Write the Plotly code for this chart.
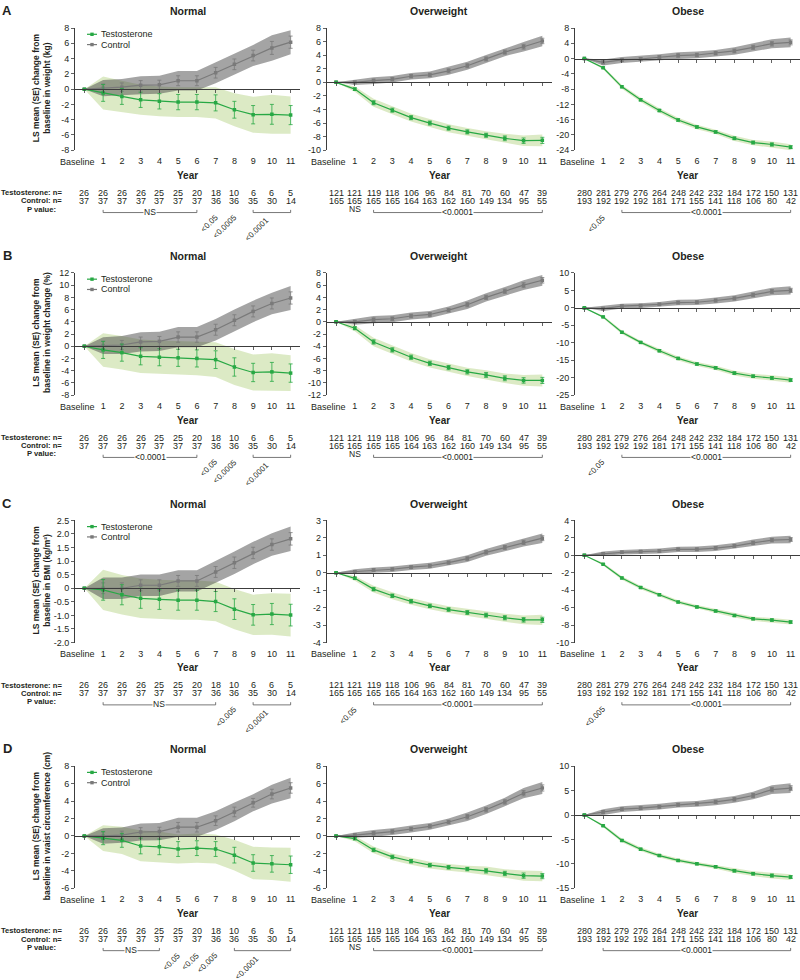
import plotly.graph_objects as go

# ---------------- categories / labels ----------------
year_x = list(range(12))
year_labels = ["Baseline", "1", "2", "3", "4", "5", "6", "7", "8", "9", "10", "11"]
bmi_groups = ["Normal", "Overweight", "Obese"]
panel_letters = ["A", "B", "C", "D"]
y_titles = [
    "LS mean (SE) change from<br>baseline in weight (kg)",
    "LS mean (SE) change from<br>baseline in weight change (%)",
    "LS mean (SE) change from<br>baseline in BMI (kg/m²)",
    "LS mean (SE) change from<br>baseline in waist circumference (cm)",
]
series_names = ["Testosterone", "Control"]

# ---------------- numbers at risk ----------------
normal_n_T = [26, 26, 26, 26, 25, 25, 20, 18, 10, 6, 6, 5]
normal_n_C = [37, 37, 37, 37, 37, 37, 37, 36, 36, 35, 30, 14]
overweight_n_T = [121, 121, 119, 118, 106, 96, 84, 81, 70, 60, 47, 39]
overweight_n_C = [165, 165, 165, 165, 164, 163, 162, 160, 149, 134, 95, 55]
obese_n_T = [280, 281, 279, 276, 264, 248, 242, 232, 184, 172, 150, 131]
obese_n_C = [193, 192, 192, 192, 181, 171, 155, 141, 118, 106, 80, 42]

# ---------------- A: weight (kg) ----------------
A_normal_T = [0, -0.5, -0.95, -1.4, -1.6, -1.7, -1.7, -1.8, -2.7, -3.35, -3.3, -3.4]
A_normal_T_se = [0, 1.1, 1.05, 1.0, 1.0, 1.0, 1.0, 1.05, 1.1, 1.2, 1.3, 1.25]
A_normal_C = [0, 0.13, 0.26, 0.52, 0.57, 1.1, 1.1, 2.15, 3.25, 4.4, 5.4, 6.15]
A_normal_C_se = [0, 0.55, 0.55, 0.6, 0.6, 0.65, 0.65, 0.7, 0.7, 0.7, 0.85, 0.8]
A_over_T = [0, -1.0, -3.0, -4.1, -5.2, -6.0, -6.75, -7.3, -7.8, -8.25, -8.6, -8.55]
A_over_T_se = [0, 0.2, 0.3, 0.3, 0.3, 0.3, 0.3, 0.3, 0.3, 0.35, 0.4, 0.45]
A_over_C = [0, 0.0, 0.25, 0.45, 0.9, 1.1, 1.7, 2.45, 3.45, 4.45, 5.25, 6.1]
A_over_C_se = [0, 0.2, 0.25, 0.25, 0.25, 0.25, 0.3, 0.3, 0.3, 0.3, 0.35, 0.4]
A_obese_T = [0, -2.4, -7.4, -10.8, -13.6, -16.1, -17.9, -19.2, -20.9, -22.0, -22.5, -23.2]
A_obese_T_se = [0, 0.2, 0.25, 0.3, 0.3, 0.3, 0.3, 0.3, 0.35, 0.35, 0.4, 0.4]
A_obese_C = [0, -1.0, -0.35, -0.1, 0.35, 0.8, 0.95, 1.4, 2.0, 2.95, 3.9, 4.25]
A_obese_C_se = [0, 0.4, 0.4, 0.4, 0.4, 0.45, 0.45, 0.45, 0.5, 0.55, 0.6, 0.65]

# ---------------- B: weight change (%) ----------------
B_normal_T = [0, -0.6, -1.05, -1.65, -1.8, -1.9, -2.0, -2.2, -3.4, -4.3, -4.2, -4.4]
B_normal_T_se = [0, 1.4, 1.4, 1.4, 1.4, 1.4, 1.4, 1.45, 1.5, 1.5, 1.55, 1.5]
B_normal_C = [0, 0.1, 0.2, 0.7, 0.8, 1.5, 1.5, 2.7, 4.25, 5.7, 7.0, 7.9]
B_normal_C_se = [0, 0.7, 0.75, 0.8, 0.8, 0.85, 0.85, 0.9, 0.9, 0.9, 0.9, 1.0]
B_over_T = [0, -1.05, -3.3, -4.6, -5.8, -6.8, -7.5, -8.2, -8.7, -9.25, -9.6, -9.6]
B_over_T_se = [0, 0.25, 0.35, 0.35, 0.35, 0.35, 0.35, 0.35, 0.4, 0.4, 0.45, 0.5]
B_over_C = [0, 0.0, 0.35, 0.5, 0.95, 1.2, 1.9, 2.8, 4.0, 5.0, 6.0, 6.8]
B_over_C_se = [0, 0.25, 0.3, 0.3, 0.3, 0.3, 0.3, 0.35, 0.35, 0.35, 0.4, 0.45]
B_obese_T = [0, -2.6, -7.0, -9.9, -12.3, -14.5, -16.1, -17.2, -18.7, -19.6, -20.1, -20.7]
B_obese_T_se = [0, 0.2, 0.25, 0.25, 0.3, 0.3, 0.3, 0.3, 0.35, 0.35, 0.4, 0.4]
B_obese_C = [0, -0.2, 0.5, 0.65, 1.0, 1.5, 1.6, 2.1, 2.7, 3.7, 4.7, 5.0]
B_obese_C_se = [0, 0.35, 0.35, 0.35, 0.35, 0.4, 0.4, 0.45, 0.45, 0.5, 0.55, 0.6]

# ---------------- C: BMI (kg/m2) ----------------
C_normal_T = [0, -0.06, -0.24, -0.37, -0.41, -0.44, -0.44, -0.49, -0.77, -0.98, -0.95, -0.99]
C_normal_T_se = [0, 0.38, 0.37, 0.37, 0.37, 0.37, 0.37, 0.37, 0.38, 0.38, 0.39, 0.4]
C_normal_C = [0, 0.0, 0.0, 0.11, 0.11, 0.27, 0.27, 0.6, 0.94, 1.3, 1.61, 1.82]
C_normal_C_se = [0, 0.2, 0.2, 0.2, 0.2, 0.2, 0.2, 0.2, 0.21, 0.21, 0.21, 0.23]
C_over_T = [0, -0.32, -0.94, -1.32, -1.64, -1.9, -2.11, -2.28, -2.43, -2.58, -2.7, -2.7]
C_over_T_se = [0, 0.07, 0.1, 0.1, 0.1, 0.1, 0.1, 0.11, 0.11, 0.12, 0.13, 0.15]
C_over_C = [0, 0.06, 0.15, 0.2, 0.32, 0.4, 0.58, 0.81, 1.17, 1.45, 1.74, 1.98]
C_over_C_se = [0, 0.07, 0.08, 0.08, 0.08, 0.09, 0.09, 0.1, 0.1, 0.11, 0.12, 0.14]
C_obese_T = [0, -1.02, -2.6, -3.7, -4.53, -5.36, -5.92, -6.38, -6.9, -7.28, -7.43, -7.66]
C_obese_T_se = [0, 0.08, 0.1, 0.1, 0.1, 0.1, 0.11, 0.11, 0.12, 0.12, 0.13, 0.14]
C_obese_C = [0, 0.19, 0.34, 0.42, 0.49, 0.68, 0.68, 0.83, 1.06, 1.43, 1.74, 1.81]
C_obese_C_se = [0, 0.12, 0.13, 0.13, 0.14, 0.15, 0.16, 0.17, 0.18, 0.19, 0.2, 0.22]

# ---------------- D: waist circumference (cm) ----------------
D_normal_T = [0, -0.25, -0.5, -1.15, -1.25, -1.5, -1.4, -1.5, -2.2, -3.1, -3.2, -3.3]
D_normal_T_se = [0, 0.75, 0.8, 0.9, 0.9, 0.85, 0.85, 0.85, 0.9, 0.95, 0.95, 1.0]
D_normal_C = [0, 0.0, 0.1, 0.45, 0.5, 1.0, 1.0, 1.75, 2.75, 3.8, 4.8, 5.5]
D_normal_C_se = [0, 0.45, 0.45, 0.5, 0.5, 0.55, 0.55, 0.55, 0.55, 0.5, 0.55, 0.6]
D_over_T = [0, -0.3, -1.6, -2.4, -2.9, -3.35, -3.6, -3.8, -4.0, -4.3, -4.55, -4.6]
D_over_T_se = [0, 0.15, 0.2, 0.2, 0.2, 0.2, 0.2, 0.2, 0.25, 0.25, 0.3, 0.3]
D_over_C = [0, 0.1, 0.3, 0.5, 0.8, 1.1, 1.6, 2.2, 3.0, 3.9, 4.9, 5.5]
D_over_C_se = [0, 0.15, 0.2, 0.2, 0.2, 0.2, 0.2, 0.25, 0.25, 0.25, 0.3, 0.35]
D_obese_T = [0, -2.2, -5.2, -7.0, -8.3, -9.3, -10.0, -10.6, -11.4, -12.0, -12.4, -12.7]
D_obese_T_se = [0, 0.15, 0.2, 0.2, 0.2, 0.2, 0.2, 0.2, 0.25, 0.25, 0.3, 0.3]
D_obese_C = [0, 0.6, 1.2, 1.4, 1.7, 2.1, 2.3, 2.7, 3.2, 4.0, 5.2, 5.5]
D_obese_C_se = [0, 0.3, 0.3, 0.3, 0.3, 0.3, 0.3, 0.35, 0.35, 0.4, 0.45, 0.5]

# ---------------- y-axis tick settings (min, max, step, decimals) ----------------
A_axes = [(-8, 8, 2, 0), (-10, 8, 2, 0), (-24, 8, 4, 0)]
B_axes = [(-8, 12, 2, 0), (-12, 8, 2, 0), (-25, 10, 5, 0)]
C_axes = [(-2, 2.5, 0.5, 1), (-4, 3, 1, 0), (-10, 4, 2, 0)]
D_axes = [(-6, 8, 2, 0), (-6, 8, 2, 0), (-15, 10, 5, 0)]

# ---------------- P values: (kind, from year, to year, label) ----------------
A_normal_p = [("bracket", 1, 6, "NS"), ("rot", 7, 7, "<0.05"), ("rot", 8, 8, "<0.0005"), ("bracket_rot", 9, 11, "<0.0001")]
A_over_p = [("text", 1, 1, "NS"), ("bracket", 2, 11, "<0.0001")]
A_obese_p = [("rot", 1, 1, "<0.05"), ("bracket", 2, 11, "<0.0001")]
B_normal_p = [("bracket", 1, 6, "<0.0001"), ("rot", 7, 7, "<0.05"), ("rot", 8, 8, "<0.0005"), ("bracket_rot", 9, 11, "<0.0001")]
B_over_p = [("text", 1, 1, "NS"), ("bracket", 2, 11, "<0.0001")]
B_obese_p = [("rot", 1, 1, "<0.05"), ("bracket", 2, 11, "<0.0001")]
C_normal_p = [("bracket", 1, 7, "NS"), ("rot", 8, 8, "<0.005"), ("bracket_rot", 9, 11, "<0.0001")]
C_over_p = [("rot", 1, 1, "<0.05"), ("bracket", 2, 11, "<0.0001")]
C_obese_p = [("rot", 1, 1, "<0.005"), ("bracket", 2, 11, "<0.0001")]
D_normal_p = [("bracket", 1, 4, "NS"), ("rot", 5, 5, "<0.05"), ("rot", 6, 6, "<0.05"), ("rot", 7, 7, "<0.005"), ("bracket_rot", 8, 11, "<0.0001")]
D_over_p = [("text", 1, 1, "NS"), ("bracket", 2, 11, "<0.0001")]
D_obese_p = [("bracket", 1, 11, "<0.0001")]

# ---------------- assemble ----------------
rows = [
    [(A_normal_T, A_normal_T_se, A_normal_C, A_normal_C_se, A_axes[0], A_normal_p),
     (A_over_T, A_over_T_se, A_over_C, A_over_C_se, A_axes[1], A_over_p),
     (A_obese_T, A_obese_T_se, A_obese_C, A_obese_C_se, A_axes[2], A_obese_p)],
    [(B_normal_T, B_normal_T_se, B_normal_C, B_normal_C_se, B_axes[0], B_normal_p),
     (B_over_T, B_over_T_se, B_over_C, B_over_C_se, B_axes[1], B_over_p),
     (B_obese_T, B_obese_T_se, B_obese_C, B_obese_C_se, B_axes[2], B_obese_p)],
    [(C_normal_T, C_normal_T_se, C_normal_C, C_normal_C_se, C_axes[0], C_normal_p),
     (C_over_T, C_over_T_se, C_over_C, C_over_C_se, C_axes[1], C_over_p),
     (C_obese_T, C_obese_T_se, C_obese_C, C_obese_C_se, C_axes[2], C_obese_p)],
    [(D_normal_T, D_normal_T_se, D_normal_C, D_normal_C_se, D_axes[0], D_normal_p),
     (D_over_T, D_over_T_se, D_over_C, D_over_C_se, D_axes[1], D_over_p),
     (D_obese_T, D_obese_T_se, D_obese_C, D_obese_C_se, D_axes[2], D_obese_p)],
]
n_tables = [(normal_n_T, normal_n_C), (overweight_n_T, overweight_n_C), (obese_n_T, obese_n_C)]

# ---------------- styling / geometry ----------------
W, H = 800, 980
FONT = "Liberation Sans, Arial, Helvetica, sans-serif"
TXT = "#231F20"
AXC = "#3C3C3C"
GREEN = "#27A844"
GREY = "#7A7A7A"
GREEN_BAND = "rgba(150,190,80,0.33)"
GREY_BAND = "rgba(80,80,80,0.52)"
CI_Z = 1.96

col_left = [75, 326.7, 575]
col_w = 225
row_top = [23.3, 270.7, 520.7, 769.0]
row_h = 123.4
x_range = [-0.5, 11.5]


def fx(px):
    return px / W


def fy(py):
    return 1 - py / H


def sfx(k):
    return "" if k == 1 else str(k)


fig = go.Figure()
layout = dict(
    width=W, height=H, margin=dict(l=0, r=0, t=0, b=0),
    paper_bgcolor="white", plot_bgcolor="rgba(0,0,0,0)", showlegend=False,
    font=dict(family=FONT, size=9, color=TXT),
)
ann = []
shp = []


def add_text(x, y, text, xref="paper", size=9, bold=False, xanchor="center", yanchor="middle",
             angle=0, bg=None):
    d = dict(x=x, y=y, xref=xref, yref="paper", text=("<b>%s</b>" % text) if bold else text,
             showarrow=False, xanchor=xanchor, yanchor=yanchor, textangle=angle,
             font=dict(family=FONT, size=size, color=TXT), borderpad=0)
    if bg:
        d["bgcolor"] = bg
    ann.append(d)


for r in range(4):
    top = row_top[r]
    bot = top + row_h
    # panel letter
    add_text(fx(7), fy(top - 17.5), panel_letters[r], size=13, bold=True)
    # y-axis title
    add_text(fx(41), fy(top + row_h / 2 - 1), y_titles[r], size=8.5, bold=True, angle=-90)
    # row labels
    add_text(fx(63), fy(bot + 43), "Testosterone: n=", size=7.6, bold=True, xanchor="right")
    add_text(fx(63), fy(bot + 51.3), "Control: n=", size=7.6, bold=True, xanchor="right")
    add_text(fx(57), fy(bot + 59.5), "P value:", size=7.6, bold=True, xanchor="right")

    for c in range(3):
        k = r * 3 + c + 1
        xs, ys = sfx(k), sfx(k)
        xname, yname = "x" + xs, "y" + ys
        T, T_se, Cm, C_se, (lo, hi, step, dec), pvals = rows[r][c]
        left = col_left[c]
        dom_x = [fx(left), fx(left + col_w)]
        dom_y = [fy(bot), fy(top)]

        # bands
        for m, se, col in ((T, T_se, GREEN_BAND), (Cm, C_se, GREY_BAND)):
            up = [a + CI_Z * s for a, s in zip(m, se)]
            dn = [a - CI_Z * s for a, s in zip(m, se)]
            fig.add_trace(go.Scatter(
                x=year_x + year_x[::-1], y=up + dn[::-1], fill="toself", fillcolor=col,
                line=dict(width=0), mode="lines", hoverinfo="skip",
                xaxis=xname, yaxis=yname))
        # lines with SE error bars
        for m, se, col, nm in ((Cm, C_se, GREY, series_names[1]), (T, T_se, GREEN, series_names[0])):
            fig.add_trace(go.Scatter(
                x=year_x, y=m, name=nm, mode="lines+markers",
                line=dict(color=col, width=1.2),
                marker=dict(symbol="square", size=3.5, color=col),
                error_y=dict(type="data", array=se, visible=True, color=col, thickness=0.8, width=2),
                xaxis=xname, yaxis=yname))
        # helper trace for zero axis
        fig.add_trace(go.Scatter(x=[None], y=[None], xaxis="x" + str(k + 12), yaxis=yname,
                                 hoverinfo="skip"))

        nt = round((hi - lo) / step)
        tv = [lo + i * step for i in range(nt + 1)]
        tt = ["0" if abs(v) < 1e-9 else ("%.*f" % (dec, v)) for v in tv]

        layout["xaxis" + xs] = dict(
            domain=dom_x, range=x_range, anchor=yname, showline=False, ticks="",
            tickvals=year_x[1:], ticktext=year_labels[1:], tickangle=0,
            tickfont=dict(size=9, color=TXT), showgrid=False, zeroline=False,
            ticklabelstandoff=4, fixedrange=True)
        layout["yaxis" + ys] = dict(
            domain=dom_y, range=[lo, hi], anchor=xname, showline=True, linecolor=AXC,
            linewidth=1, ticks="outside", ticklen=3, tickwidth=0.8, tickcolor=AXC,
            tickvals=tv, ticktext=tt, tickfont=dict(size=9, color=TXT),
            showgrid=False, zeroline=False, fixedrange=True)
        zero_px = top + (hi - 0) / (hi - lo) * row_h
        layout["xaxis" + str(k + 12)] = dict(
            overlaying=xname, anchor="free", position=fy(zero_px), domain=dom_x, range=x_range,
            showline=True, linecolor=AXC, linewidth=1, ticks="outside", ticklen=3,
            tickwidth=0.8, tickcolor=AXC, tickvals=year_x, showticklabels=False,
            showgrid=False, zeroline=False, fixedrange=True)

        # titles
        add_text(fx(left + col_w / 2), fy(top - 17), bmi_groups[c], size=10.5, bold=True)
        add_text(fx(left + col_w / 2), fy(bot + 25.5), "Year", size=10, bold=True)
        # Baseline tick label (offset left)
        add_text(0.6, fy(bot + 12), year_labels[0], xref=xname, xanchor="right")

        # numbers at risk
        nT, nC = n_tables[c]
        for i, yr in enumerate(year_x):
            add_text(yr, fy(bot + 43), str(nT[i]), xref=xname)
            add_text(yr, fy(bot + 51.3), str(nC[i]), xref=xname)

        # P values
        py = bot + 59.5
        for kind, a, b, lab in pvals:
            if kind == "text":
                add_text(a, fy(py), lab, xref=xname, size=8.5)
            elif kind == "rot":
                add_text(a + 0.3, fy(py + 2), lab, xref=xname, size=8, angle=-45,
                         xanchor="right", yanchor="top")
            else:
                yl, yu = fy(py + 3.5), fy(py + 0.8)
                shp.append(dict(type="path", xref=xname, yref="paper",
                                path="M %s,%s L %s,%s L %s,%s L %s,%s" % (a, yu, a, yl, b, yl, b, yu),
                                line=dict(color="#555555", width=0.8)))
                if kind == "bracket":
                    add_text((a + b) / 2, fy(py + 3), lab, xref=xname, size=8.5, bg="white")
                else:
                    add_text((a + b) / 2, fy(py + 5), lab, xref=xname, size=8, angle=-45,
                             xanchor="right", yanchor="top")

        # legend (Normal column only)
        if c == 0:
            for j, (nm, col) in enumerate(zip(series_names, (GREEN, GREY))):
                ly = top + 6.3 + j * 10.4
                shp.append(dict(type="line", xref="paper", yref="paper", x0=fx(87), x1=fx(97),
                                y0=fy(ly), y1=fy(ly), line=dict(color=col, width=1.2)))
                shp.append(dict(type="rect", xref="paper", yref="paper", x0=fx(90.3), x1=fx(93.7),
                                y0=fy(ly - 1.7), y1=fy(ly + 1.7), line=dict(width=0), fillcolor=col))
                add_text(fx(99.5), fy(ly), nm, xanchor="left")

layout["annotations"] = ann
layout["shapes"] = shp
fig.update_layout(**layout)
fig.write_html("out.html",
               config={"displayModeBar": False, "staticPlot": True},
               post_script="document.body.style.margin='0';document.body.style.overflow='hidden';")
